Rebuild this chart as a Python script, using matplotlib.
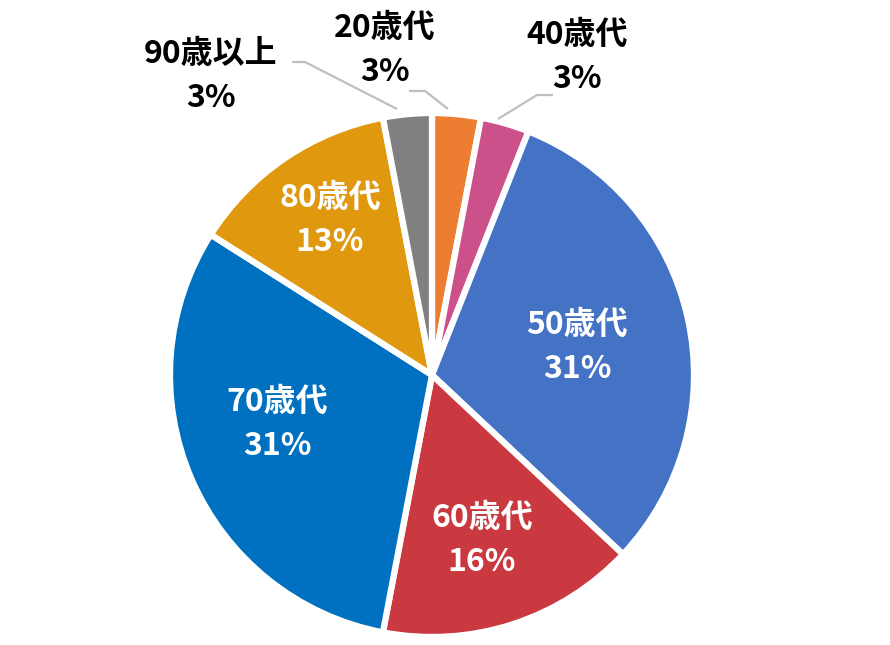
import matplotlib
matplotlib.use("Agg")
import matplotlib.pyplot as plt

plt.rcParams['font.family'] = ['Noto Sans CJK JP', 'DejaVu Sans']

# data (clockwise from 12 o'clock)
labels = ['20歳代', '40歳代', '50歳代', '60歳代', '70歳代', '80歳代', '90歳以上']
shares = [3, 3, 31, 16, 31, 13, 3]
colors = ['#ED7D31', '#CC5089', '#4472C4', '#C9393F', '#0070C0', '#E0980F', '#808080']

# label centres in pixel coords (x, y from top) and text colour
label_pos = [(385, 50), (577, 57), (577, 347), (482, 540), (277, 424), (330, 220), (211, 76)]
label_col = ['black', 'black', 'white', 'white', 'white', 'white', 'black']
# leader lines for the small outside labels
leaders = {
    0: [(409, 91), (425, 91), (448, 109)],
    1: [(553, 95), (537, 95), (498, 119)],
    6: [(292, 62), (305, 62), (397, 109)],
}

W, H = 890, 645
fig = plt.figure(figsize=(W / 100, H / 100), dpi=100)
ax = fig.add_axes([0, 0, 1, 1])

ax.pie(shares, colors=colors, startangle=90, counterclock=False,
       center=(432, H - 375), radius=262, frame=True,
       wedgeprops=dict(edgecolor='white', linewidth=4.5))
ax.set_xlim(0, W)
ax.set_ylim(0, H)
ax.set_aspect('equal')
ax.axis('off')

for i, (lab, v) in enumerate(zip(labels, shares)):
    x, y = label_pos[i]
    ax.text(x, H - y, f"{lab}\n{v}%", ha='center', va='center',
            fontsize=23, fontweight='bold', color=label_col[i],
            linespacing=1.5)

for pts in leaders.values():
    xs = [p[0] for p in pts]
    ys = [H - p[1] for p in pts]
    ax.plot(xs, ys, color='#BFBFBF', lw=1.6, solid_capstyle='butt')

fig.savefig('out.png', dpi=100)
